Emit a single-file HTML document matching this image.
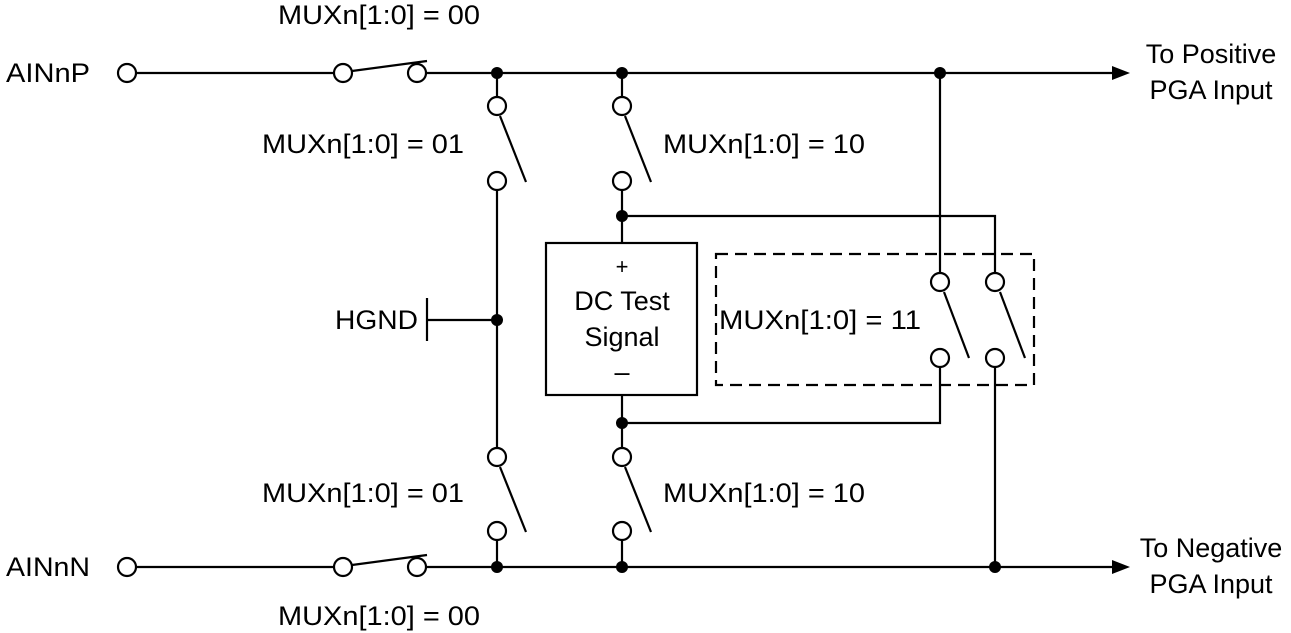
<!DOCTYPE html>
<html><head><meta charset="utf-8"><style>
html,body{margin:0;padding:0;background:#fff;}
svg{display:block;}
</style></head><body>
<svg width="1291" height="633" viewBox="0 0 1291 633" xmlns="http://www.w3.org/2000/svg">
<g stroke="#000" stroke-width="2.2" fill="none">
<line x1="136" y1="73" x2="334" y2="73"/>
<line x1="426" y1="73" x2="1115" y2="73"/>
<line x1="352" y1="71" x2="427" y2="61"/>
<line x1="136" y1="567" x2="334" y2="567"/>
<line x1="426" y1="567" x2="1115" y2="567"/>
<line x1="352" y1="565" x2="427" y2="555"/>
<line x1="497" y1="73" x2="497" y2="97"/>
<line x1="500" y1="116" x2="526" y2="182"/>
<line x1="497" y1="190" x2="497" y2="448"/>
<line x1="500" y1="467" x2="526" y2="532"/>
<line x1="497" y1="540" x2="497" y2="567"/>
<line x1="622" y1="73" x2="622" y2="97"/>
<line x1="625" y1="116" x2="651" y2="182"/>
<line x1="622" y1="190" x2="622" y2="243"/>
<line x1="622" y1="395" x2="622" y2="448"/>
<line x1="625" y1="467" x2="651" y2="532"/>
<line x1="622" y1="540" x2="622" y2="567"/>
<polyline points="622,216 995,216 995,273"/>
<line x1="940" y1="73" x2="940" y2="273"/>
<polyline points="940,367 940,423 622,423"/>
<line x1="995" y1="367" x2="995" y2="567"/>
<line x1="944" y1="292" x2="969" y2="358"/>
<line x1="1000" y1="292" x2="1025" y2="358"/>
<line x1="427" y1="320" x2="497" y2="320"/>
<line x1="427" y1="298" x2="427" y2="341"/>
<rect x="546" y="243" width="151" height="152"/>
<rect x="716" y="254" width="318" height="131" stroke-dasharray="12,7"/>
</g>
<g stroke="#000" stroke-width="2.2" fill="#fff">
<circle cx="127" cy="73" r="9"/>
<circle cx="343" cy="73" r="9"/>
<circle cx="417" cy="73" r="9"/>
<circle cx="127" cy="567" r="9"/>
<circle cx="343" cy="567" r="9"/>
<circle cx="417" cy="567" r="9"/>
<circle cx="497" cy="106" r="9"/>
<circle cx="497" cy="181" r="9"/>
<circle cx="622" cy="106" r="9"/>
<circle cx="622" cy="181" r="9"/>
<circle cx="497" cy="457" r="9"/>
<circle cx="497" cy="531" r="9"/>
<circle cx="622" cy="457" r="9"/>
<circle cx="622" cy="531" r="9"/>
<circle cx="940" cy="282" r="9"/>
<circle cx="995" cy="282" r="9"/>
<circle cx="940" cy="358" r="9"/>
<circle cx="995" cy="358" r="9"/>
</g>
<g fill="#000">
<circle cx="497" cy="73" r="6"/>
<circle cx="622" cy="73" r="6"/>
<circle cx="940" cy="73" r="6"/>
<circle cx="622" cy="216" r="6"/>
<circle cx="497" cy="320" r="6"/>
<circle cx="622" cy="423" r="6"/>
<circle cx="497" cy="567" r="6"/>
<circle cx="622" cy="567" r="6"/>
<circle cx="995" cy="567" r="6"/>
<polygon points="1112,66 1130,73 1112,80"/>
<polygon points="1112,560 1130,567 1112,574"/>
</g>
<g font-family="Liberation Sans, Arial, sans-serif" font-size="27" fill="#000">
<text x="278" y="24" textLength="202" lengthAdjust="spacingAndGlyphs">MUXn[1:0] = 00</text>
<text x="6" y="82" textLength="84" lengthAdjust="spacingAndGlyphs">AINnP</text>
<text x="6" y="576" textLength="84" lengthAdjust="spacingAndGlyphs">AINnN</text>
<text x="262" y="153" textLength="202" lengthAdjust="spacingAndGlyphs">MUXn[1:0] = 01</text>
<text x="663" y="153" textLength="202" lengthAdjust="spacingAndGlyphs">MUXn[1:0] = 10</text>
<text x="262" y="502" textLength="202" lengthAdjust="spacingAndGlyphs">MUXn[1:0] = 01</text>
<text x="663" y="502" textLength="202" lengthAdjust="spacingAndGlyphs">MUXn[1:0] = 10</text>
<text x="278" y="625" textLength="202" lengthAdjust="spacingAndGlyphs">MUXn[1:0] = 00</text>
<text x="335" y="329" textLength="83" lengthAdjust="spacingAndGlyphs">HGND</text>
<text x="719" y="329" textLength="202" lengthAdjust="spacingAndGlyphs">MUXn[1:0] = 11</text>
<text x="622" y="274" text-anchor="middle" font-size="22">+</text>
<text x="622" y="310" text-anchor="middle">DC Test</text>
<text x="622" y="346" text-anchor="middle">Signal</text>
<text x="622" y="381" text-anchor="middle">–</text>
<text x="1211" y="63" text-anchor="middle">To Positive</text>
<text x="1211" y="99" text-anchor="middle">PGA Input</text>
<text x="1211" y="557" text-anchor="middle">To Negative</text>
<text x="1211" y="593" text-anchor="middle">PGA Input</text>
</g>
</svg>
</body></html>
